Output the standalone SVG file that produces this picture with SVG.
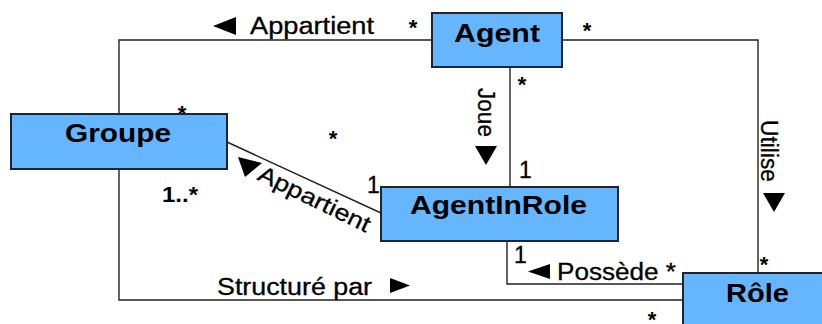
<svg xmlns="http://www.w3.org/2000/svg" width="822" height="324" viewBox="0 0 822 324">
<style>
.box{fill:#66b6ff;stroke:#1c2633;stroke-width:2}
.ln{fill:none;stroke:#222;stroke-width:1.4}
.t{font-family:"Liberation Sans",Arial,sans-serif;font-size:23px;fill:#000;stroke:#000;stroke-width:0.3}
.b{font-family:"Liberation Sans",Arial,sans-serif;font-size:26px;font-weight:bold;fill:#000}
.s{font-family:"Liberation Sans",Arial,sans-serif;font-size:22px;font-weight:bold;fill:#000}
.tri{fill:#000}
</style>
<rect width="822" height="324" fill="#fff"/>
<g id="connectors">
<polyline class="ln" points="119,114 119,40 432,40"/>
<polyline class="ln" points="562,40 758,40 758,273"/>
<line class="ln" x1="510" y1="63" x2="510" y2="189"/>
<line class="ln" x1="227" y1="142" x2="381" y2="213"/>
<polyline class="ln" points="119,169 119,300 683,300"/>
<polyline class="ln" points="507,241 507,284 683,284"/>
<polygon class="tri" points="213,26 236,17 236,35"/>
<text class="t" x="250" y="34" textLength="124" lengthAdjust="spacingAndGlyphs">Appartient</text>
<text class="s" x="413" y="35" text-anchor="middle">*</text>
<text class="s" x="587" y="38" text-anchor="middle">*</text>
<text class="s" x="522" y="92" text-anchor="middle">*</text>
<text class="t" transform="translate(478,88) rotate(90)" textLength="49" lengthAdjust="spacingAndGlyphs">Joue</text>
<polygon class="tri" points="475,146 497,146 486,165"/>
<text class="t" x="519" y="178">1</text>
<text class="t" transform="translate(761,120) rotate(90)" textLength="62" lengthAdjust="spacingAndGlyphs">Utilise</text>
<polygon class="tri" points="763,193 785,193 774,212"/>
<text class="s" x="764" y="272" text-anchor="middle">*</text>
<text class="s" x="182" y="121" text-anchor="middle">*</text>
<text class="s" x="333" y="146" text-anchor="middle">*</text>
<text class="s" x="162" y="202" textLength="36" lengthAdjust="spacingAndGlyphs">1..*</text>
<polygon class="tri" points="238,157 262,163 245,177"/>
<text class="t" transform="translate(311,206) rotate(26)" text-anchor="middle" textLength="122" lengthAdjust="spacingAndGlyphs">Appartient</text>
<text class="t" x="367" y="193">1</text>
<text class="t" x="514" y="263">1</text>
<polygon class="tri" points="528,271.5 550,264 550,279"/>
<text class="t" x="557" y="280" textLength="119" lengthAdjust="spacingAndGlyphs">Possède *</text>
<text class="t" x="217" y="295" textLength="155" lengthAdjust="spacingAndGlyphs">Structuré par</text>
<polygon class="tri" points="390,278 390,293 410,285.5"/>
<text class="s" x="652" y="327" text-anchor="middle">*</text>
</g>
<g id="agent">
<rect class="box" x="432" y="13" width="130" height="54"/>
<text class="b" x="454" y="42" textLength="86" lengthAdjust="spacingAndGlyphs">Agent</text>
</g>
<g id="groupe">
<rect class="box" x="11" y="114" width="216" height="55"/>
<text class="b" x="65" y="142" textLength="106" lengthAdjust="spacingAndGlyphs">Groupe</text>
</g>
<g id="agentinrole">
<rect class="box" x="381" y="187" width="237" height="54"/>
<text class="b" x="410" y="214" textLength="177" lengthAdjust="spacingAndGlyphs">AgentInRole</text>
</g>
<g id="role">
<rect class="box" x="683" y="273" width="150" height="60"/>
<text class="b" x="726" y="302" textLength="63" lengthAdjust="spacingAndGlyphs">Rôle</text>
</g>
</svg>
